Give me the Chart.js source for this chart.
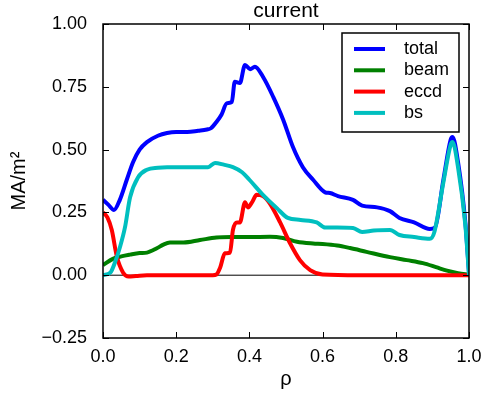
<!DOCTYPE html>
<html>
<head>
<meta charset="utf-8">
<script src="https://cdn.jsdelivr.net/npm/chart.js@4"></script>
<style>
  html,body{margin:0;padding:0;background:#fff;}
  canvas{display:block;}
</style>
</head>
<body>
<canvas id="chart" width="485" height="397"></canvas>
<script>
/* ================= Data ================= */
const totalRho = [0, 0.015, 0.03, 0.046, 0.065, 0.082, 0.1, 0.12, 0.15, 0.175, 0.2, 0.23, 0.26, 0.284, 0.295,
  0.31, 0.324, 0.338, 0.352, 0.36, 0.374, 0.388, 0.402, 0.415, 0.437, 0.465, 0.492, 0.519, 0.546, 0.574,
  0.607, 0.62, 0.642, 0.683, 0.708, 0.749, 0.784, 0.81, 0.85, 0.893, 0.907, 0.93, 0.95, 0.955, 0.97, 0.99, 1.0];
const totalVal = [0.30, 0.28, 0.26, 0.30, 0.38, 0.45, 0.50, 0.53, 0.555, 0.566, 0.57, 0.57, 0.575, 0.58, 0.585,
  0.61, 0.64, 0.684, 0.69, 0.77, 0.765, 0.837, 0.82, 0.83, 0.79, 0.71, 0.62, 0.51, 0.43, 0.38,
  0.33, 0.327, 0.315, 0.30, 0.277, 0.27, 0.255, 0.228, 0.21, 0.184, 0.19, 0.38, 0.54, 0.55, 0.45, 0.21, 0.01];

const beamRho = [0, 0.027, 0.05, 0.074, 0.1, 0.12, 0.147, 0.165, 0.183, 0.22, 0.265, 0.31, 0.35, 0.4, 0.456,
  0.492, 0.53, 0.574, 0.6, 0.64, 0.675, 0.72, 0.784, 0.83, 0.874, 0.91, 0.94, 0.97, 1.0];
const beamVal = [0.04, 0.065, 0.075, 0.082, 0.088, 0.09, 0.107, 0.122, 0.13, 0.13, 0.14, 0.15, 0.152, 0.152, 0.153,
  0.148, 0.133, 0.126, 0.124, 0.118, 0.108, 0.093, 0.072, 0.06, 0.048, 0.032, 0.018, 0.008, 0.002];

const eccdRho = [0, 0.012, 0.024, 0.038, 0.055, 0.07, 0.09, 0.12, 0.2, 0.3, 0.31, 0.32, 0.333, 0.347, 0.355,
  0.366, 0.374, 0.388, 0.396, 0.407, 0.42, 0.437, 0.456, 0.484, 0.51, 0.538, 0.566, 0.6, 0.7, 0.8, 0.9, 1.0];
const eccdVal = [0.25, 0.23, 0.18, 0.073, 0.01, -0.005, -0.003, 0, 0, 0, 0.003, 0.03, 0.087, 0.09, 0.18,
  0.21, 0.21, 0.29, 0.27, 0.29, 0.32, 0.315, 0.285, 0.21, 0.13, 0.06, 0.02, 0.003, 0, 0, 0, 0];

const bsRho = [0, 0.02, 0.035, 0.046, 0.06, 0.074, 0.096, 0.12, 0.15, 0.175, 0.23, 0.287, 0.306, 0.33, 0.355,
  0.38, 0.40, 0.437, 0.475, 0.505, 0.54, 0.584, 0.607, 0.64, 0.683, 0.708, 0.74, 0.784, 0.81, 0.85, 0.893,
  0.905, 0.93, 0.95, 0.955, 0.97, 0.99, 1.0];
const bsVal = [0, 0.01, 0.06, 0.11, 0.19, 0.31, 0.39, 0.42, 0.428, 0.43, 0.43, 0.43, 0.447, 0.44, 0.43,
  0.41, 0.38, 0.32, 0.267, 0.228, 0.22, 0.21, 0.19, 0.19, 0.188, 0.172, 0.178, 0.18, 0.16, 0.152, 0.145,
  0.17, 0.37, 0.52, 0.53, 0.43, 0.2, 0.0];

const seriesNames = ['total', 'beam', 'eccd', 'bs'];
const xTicks = [0, 0.2, 0.4, 0.6, 0.8, 1.0];
const yTicks = [-0.25, 0, 0.25, 0.5, 0.75, 1.0];

/* ================= Helpers ================= */
const FONT = '"Liberation Sans", Arial, sans-serif';

function pts(xs, ys){
  return xs.map((x,i)=>({x:x, y:ys[i]}));
}

function line(label, xs, ys, color, order){
  return {
    label: label,
    data: pts(xs, ys),
    borderColor: color,
    backgroundColor: color,
    borderWidth: 4,
    pointRadius: 0,
    cubicInterpolationMode: 'monotone',
    fill: false,
    order: order
  };
}

function fmt(v, digits){
  return v.toFixed(digits).replace('-', '\u2212');
}

/* ================= Frame, ticks, legend ================= */
const frame = {
  id: 'frame',
  beforeDatasetsDraw(chart){
    const {ctx, chartArea:a, scales:{y}} = chart;
    const y0 = y.getPixelForValue(0);
    ctx.save();
    ctx.strokeStyle = '#000';
    ctx.lineWidth = 1;
    ctx.beginPath();
    ctx.moveTo(a.left, y0);
    ctx.lineTo(a.right, y0);
    ctx.stroke();
    ctx.restore();
  },
  afterDraw(chart){
    const {ctx, chartArea:a, scales:{x, y}} = chart;
    ctx.save();
    ctx.strokeStyle = '#000';
    ctx.lineWidth = 1.5;
    ctx.strokeRect(a.left, a.top, a.right-a.left, a.bottom-a.top);

    // inward ticks on all four sides
    ctx.lineWidth = 1;
    ctx.beginPath();
    xTicks.forEach(v=>{
      const px = Math.round(x.getPixelForValue(v)) + 0.5;
      ctx.moveTo(px, a.bottom); ctx.lineTo(px, a.bottom-6);
      ctx.moveTo(px, a.top); ctx.lineTo(px, a.top+6);
    });
    yTicks.forEach(v=>{
      const py = Math.round(y.getPixelForValue(v)) + 0.5;
      ctx.moveTo(a.left, py); ctx.lineTo(a.left+6, py);
      ctx.moveTo(a.right, py); ctx.lineTo(a.right-6, py);
    });
    ctx.stroke();

    // title
    ctx.fillStyle = '#000';
    ctx.font = '21px ' + FONT;
    ctx.textAlign = 'center';
    ctx.textBaseline = 'alphabetic';
    ctx.fillText('current', (a.left+a.right)/2, 17);

    // legend
    const lx = 342, ly = 33, lw = 117, lh = 99;
    ctx.fillStyle = '#fff';
    ctx.fillRect(lx, ly, lw, lh);
    ctx.strokeStyle = '#000';
    ctx.lineWidth = 1.5;
    ctx.strokeRect(lx, ly, lw, lh);
    ctx.font = '18px ' + FONT;
    ctx.textAlign = 'left';
    ctx.textBaseline = 'middle';
    seriesNames.forEach((name, i)=>{
      const ds = chart.data.datasets.find(d=>d.label===name);
      const ry = ly + 16 + i*21.3;
      ctx.strokeStyle = ds.borderColor;
      ctx.lineWidth = 4;
      ctx.beginPath();
      ctx.moveTo(lx+12, ry);
      ctx.lineTo(lx+43, ry);
      ctx.stroke();
      ctx.fillStyle = '#000';
      ctx.fillText(name, lx+62, ry);
    });
    ctx.restore();
  }
};

/* ================= Chart ================= */
const ctx = document.getElementById('chart');

let chart = new Chart(ctx, {
  type: 'line',
  data: {
    datasets: [
      line('total', totalRho, totalVal, '#0000ff', 4),
      line('beam', beamRho, beamVal, '#008000', 3),
      line('eccd', eccdRho, eccdVal, '#ff0000', 2),
      line('bs', bsRho, bsVal, '#00bfbf', 1)
    ]
  },
  options: {
    responsive: false,
    devicePixelRatio: 1,
    animation: false,
    layout: { padding: { top: 24, right: 16, left: 0, bottom: 0 } },
    plugins: { legend: { display: false }, tooltip: { enabled: false } },
    scales: {
      x: {
        type: 'linear',
        min: 0, max: 1,
        afterFit(s){ s.height = 59; },
        afterBuildTicks(s){ s.ticks = xTicks.map(v=>({value:v})); },
        grid: { display: false },
        border: { display: false },
        ticks: {
          color: '#000',
          font: { family: FONT, size: 18 },
          padding: 0,
          maxRotation: 0,
          callback: v => fmt(v, 1)
        },
        title: {
          display: true, text: 'ρ', color: '#000',
          font: { family: FONT, size: 20 },
          padding: { top: 0, bottom: 6 }
        }
      },
      y: {
        type: 'linear',
        min: -0.25, max: 1.0,
        afterFit(s){ s.width = 103; },
        afterBuildTicks(s){ s.ticks = yTicks.map(v=>({value:v})); },
        grid: { display: false },
        border: { display: false },
        ticks: {
          color: '#000',
          font: { family: FONT, size: 18 },
          padding: 8,
          callback: v => fmt(v, 2)
        },
        title: {
          display: true, text: 'MA/m²', color: '#000',
          font: { family: FONT, size: 20 },
          padding: { top: 7, bottom: 0 }
        }
      }
    }
  },
  plugins: [frame]
});
</script>
</body>
</html>
